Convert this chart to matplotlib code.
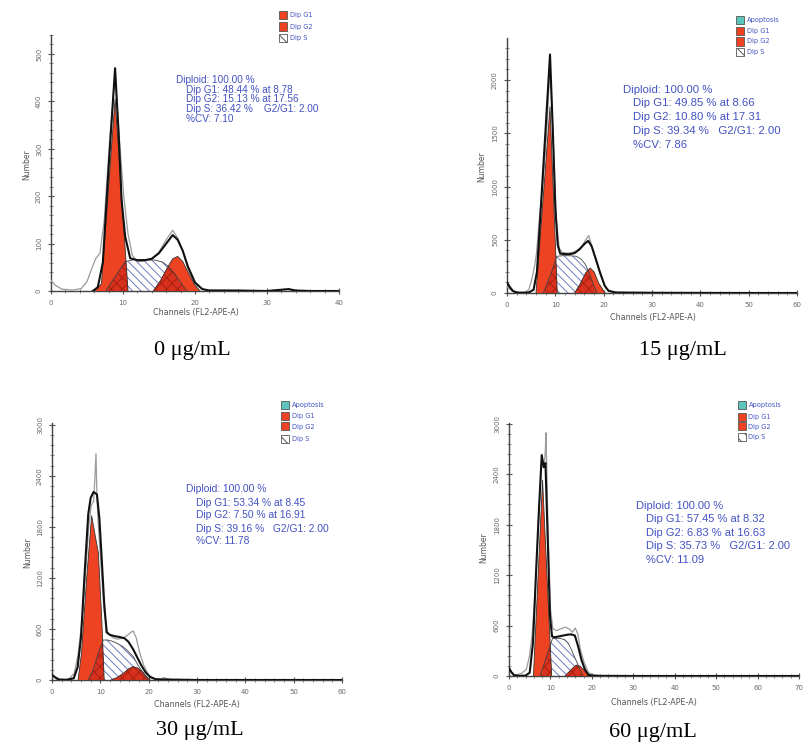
import numpy as np
import matplotlib.pyplot as plt
from matplotlib.ticker import MultipleLocator
from matplotlib.patches import Rectangle, Polygon

W, H = 810, 750

# ---------------- data ----------------
# 0 ug/mL
p0_raw_x = [0, 0.6, 1.5, 3.0, 4.2, 5.0, 5.6, 6.2, 6.8, 7.4, 8.2, 8.9, 9.5, 10.1, 10.7, 11.3, 12.0, 13.0,
            14.0, 15.0, 16.0, 16.9, 17.6, 18.4, 19.2, 20.2, 21.5, 26, 30, 33, 34, 36, 40]
p0_raw_y = [22, 12, 4, 2, 5, 20, 45, 68, 80, 150, 330, 455, 320, 200, 120, 75, 62, 63,
            67, 82, 108, 128, 112, 78, 40, 12, 2, 1, 0, 4, 1, 0, 0]
p0_fit_x = [5.8, 6.5, 7.2, 8.0, 8.9, 9.4, 9.8, 10.3, 11.0, 12.0, 13.0, 14.0, 15.0, 16.0, 16.9, 17.6,
            18.3, 19.0, 20.0, 21.0, 22.0, 26.0, 30.0, 33.0, 34.0, 36.0, 40.0]
p0_fit_y = [0, 8, 60, 260, 470, 330, 192, 115, 69, 65, 65, 68, 80, 100, 118, 108,
            85, 52, 18, 4, 1, 1, 0, 4, 1, 0, 0]
p0_g1_x = [6.0, 7.0, 8.9, 10.7]
p0_g1_y = [0, 15, 405, 0]
p0_g2_x = [14.2, 15.2, 16.2, 16.9, 17.6, 18.3, 19.2, 20.0, 20.7]
p0_g2_y = [0, 22, 50, 68, 73, 62, 35, 12, 0]
p0_s_x = [7.6, 8.8, 10.3, 11.5, 13.0, 14.5, 15.5, 16.3, 17.2, 18.0, 18.9]
p0_s_y = [0, 28, 62, 66, 66, 65, 61, 52, 36, 18, 0]
p0_stats = ['Diploid: 100.00 %', 'Dip G1: 48.44 % at 8.78', 'Dip G2: 15.13 % at 17.56',
            'Dip S: 36.42 %    G2/G1: 2.00', '%CV: 7.10']

# 15 ug/mL
p15_raw_x = [0, 1, 2.5, 3.8, 4.5, 5.1, 5.7, 6.1, 6.8, 7.5, 8.2, 8.9, 9.6, 10.2, 10.8, 11.5, 12.5, 13.5,
             14.5, 15.5, 16.3, 16.9, 17.5, 18.3, 19.3, 20.5, 22, 30, 60]
p15_raw_y = [60, 20, 3, 10, 30, 122, 250, 372, 750, 1050, 1500, 2150, 1400, 700, 420, 380, 375, 380,
             400, 440, 500, 540, 450, 320, 170, 40, 5, 1, 0]
p15_fit_x = [0, 0.5, 1.2, 2.0, 3.5, 4.5, 5.5, 6.2, 7.0, 8.0, 8.9, 9.5, 10.0, 10.5, 11.0, 12.0, 13.0,
             14.0, 15.0, 16.0, 16.8, 17.5, 18.3, 19.2, 20.2, 21.0, 22.5, 30, 40, 50, 60]
p15_fit_y = [100, 60, 20, 5, 2, 5, 30, 200, 800, 1550, 2240, 1500, 800, 450, 370, 365, 365,
             375, 410, 460, 490, 440, 330, 200, 70, 20, 5, 2, 1, 0, 0]
p15_g1_x = [6.0, 8.9, 10.4]
p15_g1_y = [0, 1750, 0]
p15_g2_x = [14.0, 15.2, 16.3, 17.2, 18.0, 19.0, 20.3]
p15_g2_y = [0, 90, 190, 235, 200, 90, 0]
p15_s_x = [7.5, 9.0, 10.3, 11.5, 13.0, 14.3, 15.3, 16.2, 17.0, 17.8, 18.6]
p15_s_y = [0, 170, 345, 350, 350, 345, 320, 270, 190, 90, 0]
p15_apo_x = [0, 0.8, 1.6]
p15_apo_y = [100, 45, 0]
p15_stats = ['Diploid: 100.00 %', 'Dip G1: 49.85 % at 8.66', 'Dip G2: 10.80 % at 17.31',
             'Dip S: 39.34 %   G2/G1: 2.00', '%CV: 7.86']

# 30 ug/mL
p30_raw_x = [0, 1, 2, 3.5, 4.6, 5.4, 5.9, 6.4, 7.0, 7.6, 8.1, 8.6, 8.9, 9.1, 9.3, 9.6, 10.2, 10.8,
             11.5, 12.5, 13.5, 14.5, 15.5, 16.3, 16.8, 17.4, 18.2, 19.0, 20.0, 21.0, 22.5, 23.2, 24, 30, 60]
p30_raw_y = [50, 15, 5, 10, 80, 300, 550, 800, 1300, 1800, 2050, 2100, 2400, 2660, 2150, 1800, 1300, 800,
             560, 500, 480, 490, 520, 560, 575, 500, 310, 170, 60, 20, 8, 30, 5, 0, 0]
p30_fit_x = [0, 0.7, 1.5, 3.0, 4.5, 5.3, 6.0, 6.8, 7.5, 8.0, 8.6, 9.3, 9.8, 10.3, 10.8, 11.3, 12.0,
             13.0, 14.0, 15.0, 15.8, 16.8, 17.6, 18.4, 19.3, 20.3, 21.5, 30, 60]
p30_fit_y = [60, 30, 5, 2, 20, 150, 500, 1300, 1950, 2140, 2210, 2180, 1900, 1411, 900, 560, 530,
             515, 505, 490, 450, 360, 270, 180, 95, 35, 8, 0, 0]
p30_g1_x = [5.4, 6.1, 7.2, 8.2, 9.6, 10.3, 10.8]
p30_g1_y = [0, 314, 1215, 1930, 1490, 705, 0]
p30_g2_x = [12.2, 13.5, 14.8, 15.8, 16.8, 17.8, 18.8, 19.6, 20.3]
p30_g2_y = [0, 30, 80, 130, 157, 140, 90, 40, 0]
p30_s_x = [7.5, 8.5, 9.5, 10.6, 11.5, 12.5, 13.5, 14.7, 15.7, 16.8, 17.8, 18.9, 19.9]
p30_s_y = [0, 120, 300, 470, 470, 455, 430, 392, 340, 275, 175, 78, 0]
p30_apo_x = [0, 0.6, 1.2]
p30_apo_y = [60, 25, 0]
p30_stats = ['Diploid: 100.00 %', 'Dip G1: 53.34 % at 8.45', 'Dip G2: 7.50 % at 16.91',
             'Dip S: 39.16 %   G2/G1: 2.00', '%CV: 11.78']

# 60 ug/mL
p60_raw_x = [0, 0.6, 1.5, 3, 4.2, 5.0, 5.6, 6.3, 7.0, 7.6, 8.0, 8.5, 8.8, 8.9, 9.1, 9.4, 10.0, 10.6,
             11.5, 12.5, 13.5, 14.5, 15.3, 16.0, 16.6, 17.3, 18.2, 19.2, 20.5, 22, 30, 70]
p60_raw_y = [100, 40, 10, 30, 80, 250, 500, 1000, 1700, 2300, 2580, 2500, 2700, 2890, 2500, 1800, 800, 560,
             540, 560, 580, 560, 520, 570, 500, 300, 150, 40, 10, 2, 0, 0]
p60_fit_x = [0, 0.5, 1.2, 2.5, 4.0, 5.0, 5.8, 6.5, 7.2, 7.9, 8.4, 8.8, 9.3, 9.9, 10.4, 11.0, 12.0,
             13.0, 14.0, 15.0, 15.9, 16.7, 17.5, 18.3, 19.1, 20.0, 22, 30, 70]
p60_fit_y = [95, 50, 10, 2, 5, 40, 400, 1200, 1950, 2625, 2480, 2530, 1700, 705, 470, 460, 470,
             480, 490, 495, 480, 350, 190, 80, 15, 5, 2, 0, 0]
p60_g1_x = [5.9, 8.1, 10.3]
p60_g1_y = [0, 2328, 0]
p60_g2_x = [13.5, 14.5, 15.5, 16.3, 17.2, 18.2, 19.2, 20.0]
p60_g2_y = [0, 50, 100, 130, 115, 65, 20, 0]
p60_s_x = [7.5, 8.5, 9.5, 10.5, 11.5, 12.5, 13.5, 14.3, 15.0, 15.8, 16.5, 17.2, 17.9]
p60_s_y = [0, 150, 300, 445, 448, 445, 430, 390, 320, 230, 150, 70, 0]
p60_apo_x = [0, 0.6, 1.3]
p60_apo_y = [100, 50, 0]
p60_stats = ['Diploid: 100.00 %', 'Dip G1: 57.45 % at 8.32', 'Dip G2: 6.83 % at 16.63',
             'Dip S: 35.73 %   G2/G1: 2.00', '%CV: 11.09']

captions = ['0 μg/mL', '15 μg/mL', '30 μg/mL', '60 μg/mL']

RED = '#ee4322'
DARKRED = '#d8321e'
TEAL = '#5cc6bd'
HATCH = '#6f7cc4'
BLUE = '#4352c2'
GREY = '#6a6a6a'

plt.rcParams['hatch.linewidth'] = 0.7


def fx(x):
    return x / W


def fy(y):
    return 1 - y / H


def make_axes(fig, left, right, bottom, top, xmax, ymax, xmaj, ymaj, ymin):
    ax = fig.add_axes([fx(left), fy(bottom), fx(right - left), (bottom - top) / H])
    for side in ['top', 'right']:
        ax.spines[side].set_visible(False)
    for side in ['left', 'bottom']:
        ax.spines[side].set_color('#444444')
        ax.spines[side].set_linewidth(1.0)
    ax.set_xticks(np.arange(0, xmax + 1, xmaj))
    ax.set_yticks(np.arange(0, ymax, ymaj))
    ax.xaxis.set_minor_locator(MultipleLocator(2))
    ax.yaxis.set_minor_locator(MultipleLocator(ymin))
    ax.set_xlim(0, xmax)
    ax.set_ylim(0, ymax)
    ax.tick_params(which='major', direction='inout', length=5, width=0.8, color='#555555',
                   labelsize=5, labelcolor=GREY, pad=4)
    ax.tick_params(which='minor', direction='inout', length=3, width=0.6, color='#777777')
    ax.tick_params(axis='y', labelrotation=90)
    for lab in ax.get_yticklabels():
        lab.set_va('center')
    return ax


def draw_hist(ax, raw_x, raw_y, fit_x, fit_y, g1_x, g1_y, g2_x, g2_y, s_x, s_y,
              apo_x=None, apo_y=None):
    ax.fill(s_x, s_y, facecolor='white', edgecolor=HATCH, hatch='\\\\\\\\',
            linewidth=0, zorder=2)
    g1 = ax.fill(g1_x, g1_y, facecolor=RED, edgecolor='none', zorder=3)[0]
    g2 = ax.fill(g2_x, g2_y, facecolor=RED, edgecolor='none', zorder=3)[0]
    # where S overlaps the red peaks the colour turns a little darker
    for clip in [g1, g2]:
        ov = Polygon(np.column_stack([s_x, s_y]), closed=True, facecolor=DARKRED,
                     edgecolor='#a8200f', hatch='xxx', linewidth=0, zorder=3.5,
                     transform=ax.transData)
        ax.add_patch(ov)
        ov.set_clip_path(clip)
    ax.plot(s_x, s_y, color='#444444', lw=0.6, zorder=4)
    ax.plot(g1_x, g1_y, color='#333333', lw=0.6, zorder=4)
    ax.plot(g2_x, g2_y, color='#333333', lw=0.6, zorder=4)
    if apo_x is not None:
        ax.fill(apo_x, apo_y, facecolor=TEAL, edgecolor='#2a7f78', lw=0.5, zorder=3)
    ax.plot(raw_x, raw_y, color='#9a9a9a', lw=0.9, zorder=5)
    ax.plot(fit_x, fit_y, color='#111111', lw=1.5, zorder=6)


def legend(fig, x, ys, names):
    for y, name in zip(ys, names):
        if name == 'Apoptosis':
            fc, hatch = TEAL, None
        elif name == 'Dip S':
            fc, hatch = 'white', '\\\\\\'
        else:
            fc, hatch = RED, None
        r = Rectangle((fx(x - 4), fy(y + 4)), 8 / W, 8 / H, transform=fig.transFigure,
                      facecolor=fc, edgecolor='#555555', lw=0.6, hatch=hatch)
        fig.add_artist(r)
        fig.text(fx(x + 7), fy(y), name, fontsize=4.8, color=BLUE, va='center', ha='left')


def stats_block(fig, x, ys, lines, size):
    for i, (y, line) in enumerate(zip(ys, lines)):
        xx = x if i == 0 else x + 10
        fig.text(fx(xx), fy(y), line, fontsize=size, color=BLUE, va='center', ha='left',
                 family='Liberation Sans')


def axis_labels(fig, nx, ny, cx, cy):
    fig.text(fx(nx), fy(ny), 'Number', rotation=90, fontsize=5.5, color='#555555',
             ha='center', va='center')
    fig.text(fx(cx), fy(cy), 'Channels (FL2-APE-A)', fontsize=5.8, color='#555555',
             ha='center', va='center')


fig = plt.figure(figsize=(8.1, 7.5), dpi=100)
fig.patch.set_facecolor('white')

# panel 0 ug/mL
ax = make_axes(fig, 51, 339, 291, 35, 40, 540, 10, 100, 20)
draw_hist(ax, p0_raw_x, p0_raw_y, p0_fit_x, p0_fit_y, p0_g1_x, p0_g1_y, p0_g2_x, p0_g2_y,
          p0_s_x, p0_s_y)
legend(fig, 283, [15, 26.5, 38], ['Dip G1', 'Dip G2', 'Dip S'])
stats_block(fig, 175.5, [80, 90, 99.5, 109, 118.5], p0_stats, 7.2)
axis_labels(fig, 27, 165, 196, 313)

# panel 15 ug/mL
ax = make_axes(fig, 507, 797, 293, 38, 60, 2395, 10, 500, 100)
draw_hist(ax, p15_raw_x, p15_raw_y, p15_fit_x, p15_fit_y, p15_g1_x, p15_g1_y, p15_g2_x, p15_g2_y,
          p15_s_x, p15_s_y, p15_apo_x, p15_apo_y)
legend(fig, 740, [20, 31, 41.5, 52], ['Apoptosis', 'Dip G1', 'Dip G2', 'Dip S'])
stats_block(fig, 623, [90, 103.5, 117.5, 131.5, 145.5], p15_stats, 8.2)
axis_labels(fig, 482, 167, 653, 318)

# panel 30 ug/mL
ax = make_axes(fig, 52, 342, 680, 423, 60, 3020, 10, 600, 120)
draw_hist(ax, p30_raw_x, p30_raw_y, p30_fit_x, p30_fit_y, p30_g1_x, p30_g1_y, p30_g2_x, p30_g2_y,
          p30_s_x, p30_s_y, p30_apo_x, p30_apo_y)
legend(fig, 285, [405, 416, 426.5, 439], ['Apoptosis', 'Dip G1', 'Dip G2', 'Dip S'])
stats_block(fig, 186.5, [489.5, 503, 515.5, 528.5, 541.5], p30_stats, 7.4)
axis_labels(fig, 28, 553, 197, 705)

# panel 60 ug/mL
ax = make_axes(fig, 509, 799, 676, 423, 70, 3006, 10, 600, 120)
draw_hist(ax, p60_raw_x, p60_raw_y, p60_fit_x, p60_fit_y, p60_g1_x, p60_g1_y, p60_g2_x, p60_g2_y,
          p60_s_x, p60_s_y, p60_apo_x, p60_apo_y)
legend(fig, 741.5, [405, 416.5, 426.5, 437], ['Apoptosis', 'Dip G1', 'Dip G2', 'Dip S'])
stats_block(fig, 636.5, [506, 519.5, 533, 546, 560], p60_stats, 8)
axis_labels(fig, 484, 548, 654, 703)

# captions
for (cx, cy), text in zip([(192, 350), (683, 350), (200, 731), (653, 733)], captions):
    fig.text(fx(cx), fy(cy), text, fontsize=16, family='Liberation Serif', color='black',
             ha='center', va='center')

fig.savefig('out.png', dpi=100)
